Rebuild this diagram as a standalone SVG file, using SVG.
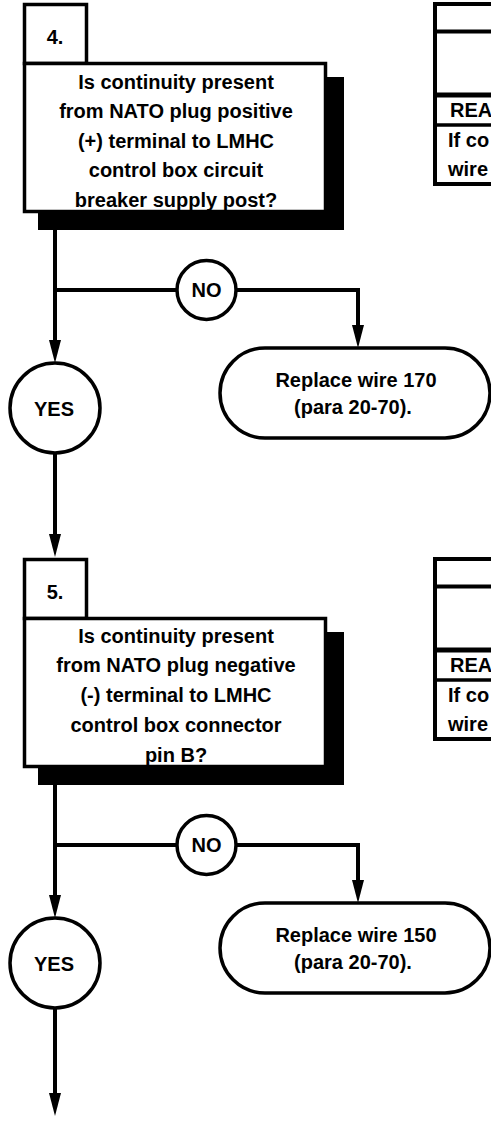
<svg xmlns="http://www.w3.org/2000/svg" width="491" height="1121" viewBox="0 0 491 1121">
<defs>
<style>
text{font-family:"Liberation Sans",Arial,sans-serif;font-weight:bold;font-size:20px;fill:#000}
.c{text-anchor:middle}
.box{fill:#fff;stroke:#000;stroke-width:3.5}
.shadow{fill:#000}
.ln{fill:none;stroke:#000;stroke-width:4}
.arr{marker-end:url(#ah)}
.tbl{fill:none;stroke:#000}
</style>
<marker id="ah" markerUnits="userSpaceOnUse" markerWidth="24" markerHeight="14" viewBox="0 0 24 14" refX="13" refY="7" orient="auto">
<path d="M0,1 L23,7 L0,13 z" fill="#000"/>
</marker>
</defs>
<rect width="491" height="1121" fill="#fff"/>

<g id="step4">
<rect class="shadow" x="38" y="77" width="306" height="153"/>
<rect class="box" x="24.5" y="4.5" width="62" height="59"/>
<rect class="box" x="24.5" y="63.5" width="301" height="148"/>
<text x="55" y="43.5" class="c">4.</text>
<text class="c" x="176" y="88.5">Is continuity present</text>
<text class="c" x="176" y="118">from NATO plug positive</text>
<text class="c" x="176" y="147.5">(+) terminal to LMHC</text>
<text class="c" x="176" y="177">control box circuit</text>
<text class="c" x="176" y="207">breaker supply post?</text>
</g>

<g id="table4">
<rect class="tbl" x="435" y="4" width="80" height="180" stroke-width="4"/>
<line class="tbl" x1="435" y1="31.5" x2="491" y2="31.5" stroke-width="4"/>
<line class="tbl" x1="435" y1="95" x2="491" y2="95" stroke-width="5"/>
<line class="tbl" x1="435" y1="125" x2="491" y2="125" stroke-width="3.5"/>
<text x="450" y="117">REA</text>
<text x="448" y="147">If co</text>
<text x="448" y="176">wire</text>
</g>

<g id="no4">
<circle class="box" cx="206.5" cy="290" r="29.5"/>
<text class="c" x="206.5" y="297">NO</text>
</g>
<g id="yes4">
<circle class="box" cx="55" cy="408" r="45"/>
<text class="c" x="54" y="416">YES</text>
</g>
<g id="replace170">
<rect class="box" x="220" y="348" width="270" height="90" rx="45" ry="45"/>
<text class="c" x="356" y="387">Replace wire 170</text>
<text class="c" x="353" y="414">(para 20-70).</text>
</g>

<g id="step5">
<rect class="shadow" x="38" y="632" width="306" height="153"/>
<rect class="box" x="24.5" y="559.5" width="62" height="59"/>
<rect class="box" x="24.5" y="618.5" width="301" height="148"/>
<text x="55" y="599" class="c">5.</text>
<text class="c" x="176" y="642.5">Is continuity present</text>
<text class="c" x="176" y="672">from NATO plug negative</text>
<text class="c" x="176" y="702">(-) terminal to LMHC</text>
<text class="c" x="176" y="732">control box connector</text>
<text class="c" x="176" y="762">pin B?</text>
</g>

<g id="table5">
<rect class="tbl" x="435" y="559" width="80" height="180" stroke-width="4"/>
<line class="tbl" x1="435" y1="586.5" x2="491" y2="586.5" stroke-width="4"/>
<line class="tbl" x1="435" y1="650" x2="491" y2="650" stroke-width="5"/>
<line class="tbl" x1="435" y1="680" x2="491" y2="680" stroke-width="3.5"/>
<text x="450" y="672">REA</text>
<text x="448" y="702">If co</text>
<text x="448" y="731">wire</text>
</g>

<g id="no5">
<circle class="box" cx="206.5" cy="845" r="29.5"/>
<text class="c" x="206.5" y="852">NO</text>
</g>
<g id="yes5">
<circle class="box" cx="55" cy="963" r="45"/>
<text class="c" x="54" y="971">YES</text>
</g>
<g id="replace150">
<rect class="box" x="220" y="903" width="270" height="90" rx="45" ry="45"/>
<text class="c" x="356" y="942">Replace wire 150</text>
<text class="c" x="353" y="969">(para 20-70).</text>
</g>

<g id="connectors">
<path class="ln arr" d="M55,230 V353"/>
<path class="ln" d="M55,290 H177"/>
<path class="ln arr" d="M236,290 H358 V338"/>
<path class="ln arr" d="M55,453 V547"/>
<path class="ln arr" d="M55,785 V908"/>
<path class="ln" d="M55,845 H177"/>
<path class="ln arr" d="M236,845 H358 V893"/>
<path class="ln arr" d="M55,1008 V1106"/>
</g>
</svg>
